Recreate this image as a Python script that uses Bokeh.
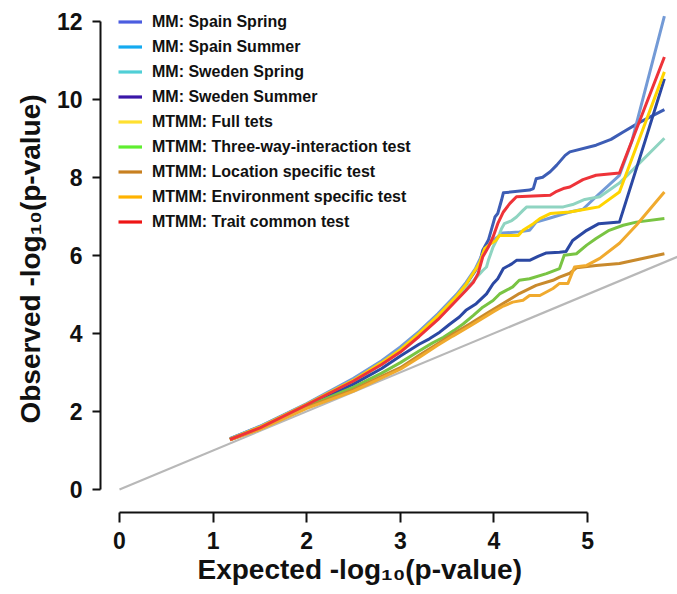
from bokeh.plotting import figure
from bokeh.models import Range1d, FixedTicker, Legend, LegendItem, Title
from bokeh.embed import file_html
from bokeh.resources import INLINE

# Expected vs observed -log10(p) for each GWAS scan (QQ plot)
spain_spring_x = [1.18, 1.5, 2.0, 2.5, 2.8, 3.0, 3.2, 3.4, 3.6, 3.7, 3.8, 3.85, 3.88, 3.94, 3.97,
                  4.01, 4.04, 4.08, 4.10, 4.38, 4.42, 4.45, 4.52, 4.60, 4.67, 4.76, 4.81, 5.09,
                  5.25, 5.38, 5.55, 5.82]
spain_spring_y = [1.30, 1.61, 2.19, 2.82, 3.25, 3.60, 4.00, 4.45, 4.95, 5.25, 5.60, 5.85, 6.13, 6.39, 6.64,
                  6.98, 7.07, 7.41, 7.60, 7.67, 7.71, 7.96, 8.00, 8.14, 8.31, 8.56, 8.65, 8.82,
                  8.97, 9.16, 9.40, 9.73]

spain_summer_x = [1.18, 1.5, 2.0, 2.5, 2.8, 3.0, 3.2, 3.4, 3.6, 3.7, 3.8, 3.86, 3.92, 4.0, 4.06,
                  4.09, 4.27, 4.38, 4.45, 4.59, 4.81, 4.95, 5.09, 5.34, 5.47, 5.82]
spain_summer_y = [1.30, 1.62, 2.20, 2.85, 3.30, 3.65, 4.05, 4.50, 5.00, 5.30, 5.65, 5.95, 6.20, 6.40, 6.51,
                  6.57, 6.60, 6.64, 6.85, 6.95, 7.11, 7.18, 7.50, 8.05, 8.90, 12.13]

sweden_spring_x = [1.18, 1.5, 2.0, 2.5, 2.8, 3.0, 3.2, 3.4, 3.6, 3.7, 3.8, 3.88, 3.92, 3.94, 3.99,
                   4.06, 4.08, 4.11, 4.19, 4.24, 4.31, 4.35, 4.74, 4.84, 4.97, 5.13, 5.34, 5.82]
sweden_spring_y = [1.28, 1.58, 2.16, 2.77, 3.20, 3.55, 3.95, 4.40, 4.90, 5.15, 5.40, 5.61, 5.70, 5.87, 6.21,
                   6.55, 6.68, 6.81, 6.89, 6.98, 7.15, 7.24, 7.24, 7.30, 7.43, 7.50, 7.85, 9.00]

sweden_summer_x = [1.18, 1.5, 2.0, 2.5, 2.8, 3.0, 3.2, 3.31, 3.42, 3.53, 3.63, 3.70, 3.81, 3.92, 3.99,
                   4.04, 4.10, 4.19, 4.24, 4.38, 4.47, 4.56, 4.70, 4.77, 4.84, 4.99, 5.12, 5.34,
                   5.61, 5.82]
sweden_summer_y = [1.28, 1.57, 2.14, 2.70, 3.10, 3.42, 3.72, 3.86, 4.03, 4.24, 4.42, 4.59, 4.76, 5.01, 5.27,
                   5.40, 5.66, 5.78, 5.87, 5.87, 5.97, 6.06, 6.08, 6.10, 6.38, 6.64, 6.81, 6.85,
                   8.90, 10.52]

full_x = [1.18, 1.5, 2.0, 2.5, 2.8, 3.0, 3.2, 3.4, 3.6, 3.7, 3.82, 3.85, 3.90, 3.96, 4.02, 4.06,
          4.26, 4.31, 4.42, 4.49, 4.60, 4.81, 5.02, 5.12, 5.34, 5.82]
full_y = [1.29, 1.60, 2.18, 2.80, 3.25, 3.58, 4.00, 4.45, 4.95, 5.25, 5.70, 5.83, 6.17, 6.29, 6.38, 6.51,
          6.51, 6.64, 6.81, 6.94, 7.07, 7.11, 7.20, 7.24, 7.62, 10.70]

three_way_x = [1.18, 1.5, 2.0, 2.5, 2.8, 3.0, 3.2, 3.34, 3.46, 3.57, 3.67, 3.78, 3.88, 3.99, 4.06,
               4.13, 4.20, 4.27, 4.38, 4.56, 4.70, 4.75, 4.88, 4.99, 5.09, 5.23, 5.38, 5.52, 5.82]
three_way_y = [1.28, 1.56, 2.12, 2.62, 2.98, 3.25, 3.55, 3.75, 3.90, 4.07, 4.24, 4.46, 4.67, 4.84, 5.01,
               5.10, 5.19, 5.36, 5.40, 5.53, 5.66, 6.00, 6.04, 6.26, 6.43, 6.64, 6.77, 6.85, 6.94]

location_x = [1.18, 1.5, 2.0, 2.5, 2.8, 3.0, 3.21, 3.39, 3.56, 3.74, 3.92, 4.10, 4.27, 4.45, 4.63,
              4.70, 4.81, 4.88, 5.09, 5.34, 5.55, 5.82]
location_y = [1.27, 1.55, 2.10, 2.56, 2.90, 3.12, 3.45, 3.72, 3.98, 4.24, 4.51, 4.77, 5.02, 5.23, 5.36,
              5.44, 5.54, 5.68, 5.74, 5.79, 5.90, 6.04]

environment_x = [1.18, 1.5, 2.0, 2.5, 2.8, 3.0, 3.2, 3.39, 3.56, 3.74, 3.99, 4.10, 4.20, 4.31, 4.38,
                 4.49, 4.63, 4.70, 4.79, 4.86, 4.99, 5.13, 5.34, 5.52, 5.82]
environment_y = [1.27, 1.54, 2.08, 2.52, 2.86, 3.08, 3.38, 3.68, 3.93, 4.18, 4.55, 4.70, 4.80, 4.85, 4.97,
                 4.97, 5.15, 5.28, 5.28, 5.70, 5.74, 5.92, 6.31, 6.77, 7.62]

trait_x = [1.18, 1.5, 2.0, 2.5, 2.8, 3.0, 3.2, 3.4, 3.6, 3.7, 3.78, 3.83, 3.88, 3.94, 3.99, 4.04,
           4.10, 4.17, 4.24, 4.60, 4.67, 4.74, 4.81, 4.95, 5.09, 5.34, 5.82]
trait_y = [1.28, 1.58, 2.17, 2.78, 3.20, 3.52, 3.92, 4.35, 4.85, 5.10, 5.31, 5.53, 5.96, 6.21, 6.47, 6.81,
           7.11, 7.33, 7.50, 7.54, 7.64, 7.71, 7.75, 7.94, 8.05, 8.11, 11.08]

# null expectation (y = x)
null_x = [0.0, 6.2]
null_y = [0.0, 6.2]

series_names = [
    "MM: Spain Spring", "MM: Spain Summer", "MM: Sweden Spring", "MM: Sweden Summer",
    "MTMM: Full tets", "MTMM: Three-way-interaction test", "MTMM: Location specific test",
    "MTMM: Environment specific test", "MTMM: Trait common test",
]
series_x = [spain_spring_x, spain_summer_x, sweden_spring_x, sweden_summer_x, full_x,
            three_way_x, location_x, environment_x, trait_x]
series_y = [spain_spring_y, spain_summer_y, sweden_spring_y, sweden_summer_y, full_y,
            three_way_y, location_y, environment_y, trait_y]
line_colors = ["#3d5db5", "#739ad6", "#8fd4c1", "#2b48a3", "#ffd400",
               "#79c443", "#c98a2c", "#f0aa2e", "#ee3339"]
key_colors = ["#4b5de0", "#14aaf0", "#50cfd6", "#3a17a8", "#ffe030",
              "#5fee30", "#c88020", "#ffb300", "#ee1515"]

x_ticks = [0, 1, 2, 3, 4, 5]
y_ticks = [0, 2, 4, 6, 8, 10, 12]

FONT = "Liberation Sans"
NAN = float("nan")

p = figure(
    width=677, height=594,
    x_range=Range1d(-0.203, 5.96), y_range=Range1d(-0.59, 12.4),
    output_backend="svg", toolbar_location=None,
    min_border_left=100, min_border_right=0, min_border_top=5, min_border_bottom=82,
)
p.outline_line_color = None
p.grid.visible = False
p.background_fill_color = "white"
p.border_fill_color = "white"

p.line(null_x, null_y, line_color="#b8b8b8", line_width=2.2)

for xs, ys, c in zip(series_x, series_y, line_colors):
    p.line(xs, ys, line_color=c, line_width=3, line_join="round")

# legend swatches use their own key colours (renderers hold no drawable point)
items = []
for name, c in zip(series_names, key_colors):
    r = p.line([NAN], [NAN], line_color=c, line_width=3.2)
    items.append(LegendItem(label=name, renderers=[r]))

legend = Legend(
    items=items, location=(18, 280),
    glyph_width=24, glyph_height=21, label_height=21, spacing=4,
    label_standoff=10, padding=0, margin=0,
    label_text_font=FONT, label_text_font_style="bold", label_text_font_size="16px",
    label_text_color="#111111",
    border_line_color=None, background_fill_alpha=0,
)
p.add_layout(legend)

for ax in (p.xaxis[0], p.yaxis[0]):
    ax.axis_line_width = 2
    ax.axis_line_color = "#111111"
    ax.major_tick_line_width = 2
    ax.major_tick_line_color = "#111111"
    ax.major_tick_in = 0
    ax.minor_tick_line_color = None
    ax.major_label_text_font = FONT
    ax.major_label_text_font_style = "bold"
    ax.major_label_text_font_size = "23px"
    ax.major_label_text_color = "#111111"
    ax.axis_label_text_font = FONT
    ax.axis_label_text_font_style = "bold"
    ax.axis_label_text_font_size = "28px"
    ax.axis_label_text_color = "#111111"

p.xaxis.bounds = (0, 5)
p.xaxis.ticker = FixedTicker(ticks=x_ticks)
p.xaxis.major_tick_out = 10
p.xaxis.major_label_standoff = 9

p.yaxis.bounds = (0, 12)
p.yaxis.ticker = FixedTicker(ticks=y_ticks)
p.yaxis.major_tick_out = 8
p.yaxis.major_label_standoff = 10
p.yaxis.axis_label = "Observed -log\u2081\u2080(p-value)"
p.yaxis.axis_label_standoff = 8

# x-axis caption centred under the tick span
x_caption = Title(
    text="Expected -log\u2081\u2080(p-value)", align="left", offset=97, standoff=0,
    text_font=FONT, text_font_style="bold", text_font_size="28px", text_color="#111111",
)
p.add_layout(x_caption, "below")

open("out.html", "w").write(file_html(p, INLINE))
